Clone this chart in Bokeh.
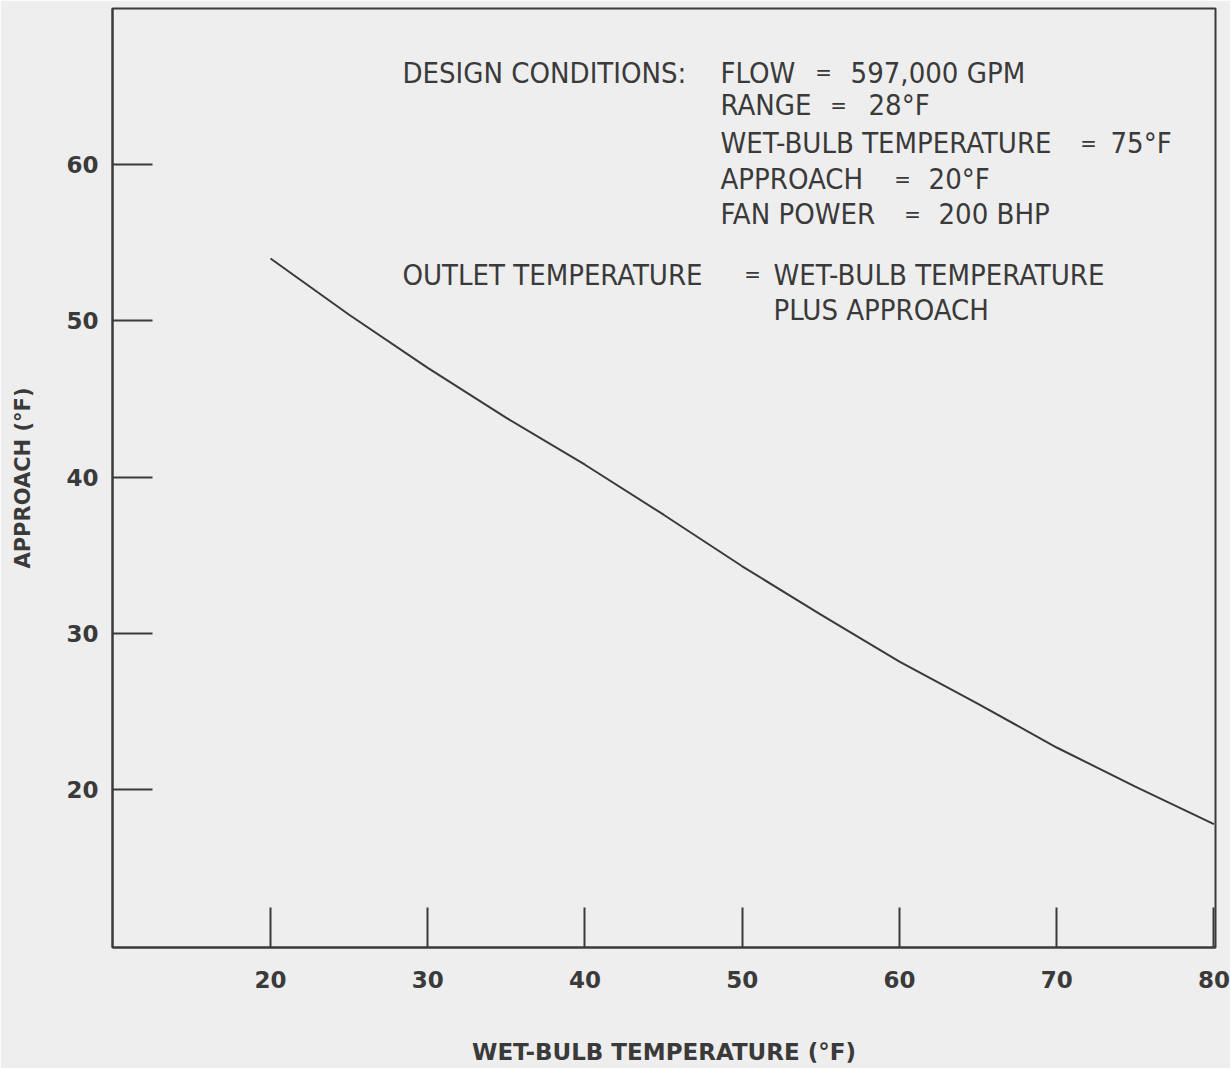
from bokeh.plotting import figure
from bokeh.models import Range1d, FixedTicker, Label
from bokeh.embed import file_html
from bokeh.resources import INLINE

# Data
wet_bulb = [20, 25, 30, 35, 40, 45, 50, 55, 60, 65, 70, 75, 80]
approach = [54.0, 50.4, 47.0, 43.8, 40.8, 37.6, 34.3, 31.2, 28.2, 25.5, 22.7, 20.2, 17.8]
x_ticks = [20, 30, 40, 50, 60, 70, 80]
y_ticks = [20, 30, 40, 50, 60]

design_names = ["FLOW", "RANGE", "WET-BULB TEMPERATURE", "APPROACH", "FAN POWER"]
design_values = ["597,000 GPM", "28°F", "75°F", "20°F", "200 BHP"]

BG = "#eeeeee"
INK = "#3a3a3a"
NARROW = "'DejaVu Sans Condensed', 'DejaVu Sans', sans-serif"
GEO = "'DejaVu Sans', sans-serif"
ANN_SIZE = "29px"

p = figure(width=1230, height=1068, output_backend="svg", toolbar_location=None,
           x_range=Range1d(9.95, 80.1), y_range=Range1d(9.9, 70.0),
           min_border_left=112, min_border_right=15, min_border_top=8, min_border_bottom=121)
p.background_fill_color = BG
p.border_fill_color = BG
p.outline_line_color = INK
p.outline_line_width = 2
p.grid.visible = False

for ax in (p.xaxis[0], p.yaxis[0]):
    ax.axis_line_color = INK
    ax.axis_line_width = 2
    ax.major_tick_line_color = INK
    ax.major_tick_line_width = 2
    ax.major_tick_in = 40
    ax.major_tick_out = 0
    ax.minor_tick_line_color = None
    ax.major_label_text_color = INK
    ax.major_label_text_font = GEO
    ax.major_label_text_font_style = "bold"
    ax.major_label_text_font_size = "23px"

p.xaxis.ticker = FixedTicker(ticks=x_ticks)
p.yaxis.ticker = FixedTicker(ticks=y_ticks)
p.xaxis.major_label_standoff = 23
p.yaxis.major_label_standoff = 14

p.xaxis.axis_label = "WET-BULB TEMPERATURE (°F)"
p.yaxis.axis_label = "APPROACH (°F)"
for ax in (p.xaxis[0], p.yaxis[0]):
    ax.axis_label_text_font = GEO
    ax.axis_label_text_font_style = "bold"
    ax.axis_label_text_color = INK
p.xaxis.axis_label_text_font_size = "23px"
p.yaxis.axis_label_text_font_size = "21px"
p.xaxis.axis_label_standoff = 48
p.yaxis.axis_label_standoff = 28

p.line(wet_bulb, approach, line_color=INK, line_width=2)

# annotation text (positions in data units)
def add_text(x, y, t, align="left", size=ANN_SIZE):
    p.add_layout(Label(x=x, y=y, text=t, text_font=NARROW, text_font_size=size,
                       text_color=INK, text_baseline="middle", text_align=align))

line_y = [65.9, 63.8, 61.36, 59.06, 56.82]
eq_x = [55.17, 56.12, 72.02, 60.19, 60.83]
val_x = [56.89, 58.03, 73.42, 61.85, 62.48]

add_text(28.39, line_y[0], "DESIGN CONDITIONS:")
for yy, name, ex, vx, val in zip(line_y, design_names, eq_x, val_x, design_values):
    add_text(48.62, yy, name)
    add_text(ex, yy, "=", align="center", size="22px")
    add_text(vx, yy, val)
add_text(28.39, 52.97, "OUTLET TEMPERATURE")
add_text(50.65, 52.97, "=", align="center", size="22px")
add_text(51.99, 52.97, "WET-BULB TEMPERATURE")
add_text(51.99, 50.73, "PLUS APPROACH")

open("out.html", "w").write(file_html(p, INLINE))
